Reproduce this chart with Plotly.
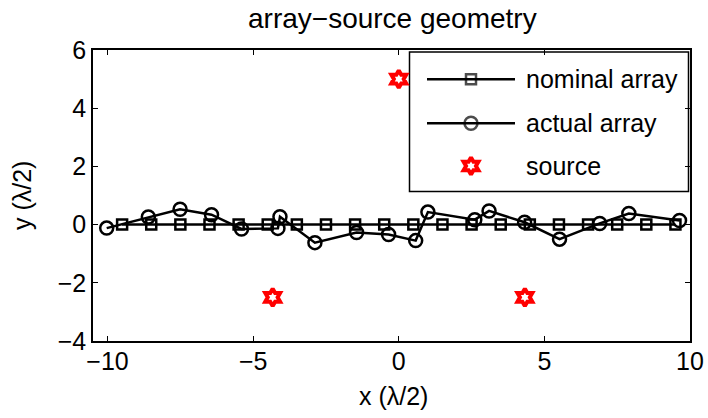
import plotly.graph_objects as go

# Nominal uniform linear array (half-wavelength spacing)
nominal_x = [-9.5, -8.5, -7.5, -6.5, -5.5, -4.5, -3.5, -2.5, -1.5, -0.5,
             0.5, 1.5, 2.5, 3.5, 4.5, 5.5, 6.5, 7.5, 8.5, 9.5]
nominal_y = [0.0] * 20

# Perturbed (actual) element positions
actual_x = [-10.03, -8.6, -7.51, -6.43, -5.40, -4.15, -4.08, -2.88, -1.45, -0.35,
            0.58, 1.0, 2.61, 3.1, 4.32, 5.52, 6.9, 7.9, 9.64]
actual_y = [-0.12, 0.26, 0.53, 0.34, -0.15, -0.13, 0.27, -0.62, -0.27, -0.34,
            -0.55, 0.43, 0.17, 0.47, 0.08, -0.5, 0.04, 0.38, 0.14]

# Far-field source locations
source_x = [0.0, -4.33, 4.33]
source_y = [5.0, -2.5, -2.5]

x_ticks = [-10, -5, 0, 5, 10]
y_ticks = [-4, -2, 0, 2, 4, 6]

FONT = "Liberation Sans, Arial, Helvetica, sans-serif"
FS = 25
W, H = 708, 418
L, R, T, B = 93, 690, 50, 341

star = dict(symbol="hexagram-open", size=13, color="red", line=dict(width=4, color="red"))

fig = go.Figure()

fig.add_trace(go.Scatter(
    x=nominal_x, y=nominal_y, mode="lines+markers", name="nominal array",
    line=dict(color="black", width=2.5),
    marker=dict(symbol="square-open", size=10, color="black", line=dict(width=2.5)),
    showlegend=False))
fig.add_trace(go.Scatter(
    x=actual_x, y=actual_y, mode="lines+markers", name="actual array",
    line=dict(color="black", width=2.5),
    marker=dict(symbol="circle-open", size=13, color="black", line=dict(width=2.5)),
    showlegend=False))
fig.add_trace(go.Scatter(
    x=source_x, y=source_y, mode="markers", name="source",
    marker=star, showlegend=False))

# Legend drawn on a pixel-based overlay axis
leg_rows = [79.3, 123.3, 166.0]
leg_labels = ["nominal array", "actual array", "source"]
fig.add_trace(go.Scatter(
    x=[471, 471], y=leg_rows[:2], mode="markers", xaxis="x2", yaxis="y2",
    marker=dict(symbol=["square-open", "circle-open"], size=[10, 13], color="black",
                line=dict(width=2.5)),
    showlegend=False, hoverinfo="skip", cliponaxis=False))
fig.add_trace(go.Scatter(
    x=[471], y=[leg_rows[2]], mode="markers", xaxis="x2", yaxis="y2",
    marker=star, showlegend=False, hoverinfo="skip", cliponaxis=False))

shapes = [dict(type="rect", xref="x2", yref="y2", x0=409.5, x1=688.5, y0=52, y1=191.5,
               line=dict(color="black", width=1.5), fillcolor="white", layer="below")]
for yy in leg_rows[:2]:
    shapes.append(dict(type="line", xref="x2", yref="y2", x0=427, x1=515, y0=yy, y1=yy,
                       line=dict(color="black", width=2.5)))

annotations = []
for yy, lab in zip(leg_rows, leg_labels):
    annotations.append(dict(xref="x2", yref="y2", x=524, y=yy, text=lab, showarrow=False,
                            xanchor="left", yanchor="middle",
                            font=dict(family=FONT, size=FS, color="black")))
annotations.append(dict(xref="paper", yref="paper", x=(392 - L) / (R - L), y=1 + (T - 19) / (B - T),
                        text="array\u2212source geometry", showarrow=False,
                        xanchor="center", yanchor="middle",
                        font=dict(family=FONT, size=28, color="black")))
annotations.append(dict(xref="paper", yref="paper", x=(393 - L) / (R - L), y=-(396 - B) / (B - T),
                        text="x (\u03bb/2)", showarrow=False, xanchor="center", yanchor="middle",
                        font=dict(family=FONT, size=FS, color="black")))
annotations.append(dict(xref="paper", yref="paper", x=-(L - 22) / (R - L), y=(B - 196) / (B - T),
                        text="y (\u03bb/2)", showarrow=False, xanchor="center", yanchor="middle",
                        textangle=-90, font=dict(family=FONT, size=FS, color="black")))

axis_common = dict(showgrid=False, zeroline=False, showline=True, linecolor="black",
                   linewidth=1.5, mirror="ticks", ticks="inside", ticklen=5,
                   tickcolor="black", tickwidth=1,
                   tickfont=dict(family=FONT, size=FS, color="black"))

fig.update_layout(
    width=W, height=H,
    margin=dict(l=L, r=W - R, t=T, b=H - B, pad=0, autoexpand=False),
    paper_bgcolor="white", plot_bgcolor="white",
    xaxis=dict(range=[-10.5, 10], tickvals=x_ticks, ticklabelstandoff=-3, **axis_common),
    yaxis=dict(range=[-4, 6], tickvals=y_ticks, **axis_common),
    xaxis2=dict(overlaying="x", range=[L, R], visible=False),
    yaxis2=dict(overlaying="y", range=[B, T], visible=False),
    shapes=shapes, annotations=annotations, showlegend=False,
)

fig.write_html("out.html")
